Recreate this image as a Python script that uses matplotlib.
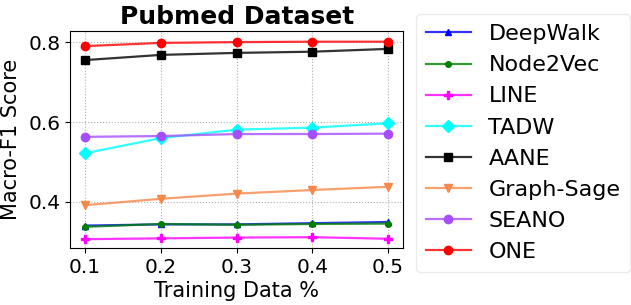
import matplotlib
matplotlib.use("Agg")
import matplotlib.pyplot as plt
from matplotlib.colors import to_rgba

train_pct = [0.1, 0.2, 0.3, 0.4, 0.5]

deepwalk = [0.341, 0.344, 0.344, 0.347, 0.350]
node2vec = [0.338, 0.345, 0.343, 0.345, 0.346]
line = [0.307, 0.309, 0.311, 0.312, 0.308]
tadw = [0.522, 0.560, 0.581, 0.586, 0.597]
aane = [0.755, 0.768, 0.773, 0.776, 0.783]
graphsage = [0.392, 0.408, 0.421, 0.430, 0.438]
seano = [0.563, 0.565, 0.570, 0.570, 0.571]
one = [0.790, 0.798, 0.800, 0.801, 0.801]

series = [
    ("DeepWalk", deepwalk, "blue", "^", 5),
    ("Node2Vec", node2vec, "green", "o", 4),
    ("LINE", line, "magenta", "P", 6),
    ("TADW", tadw, "cyan", "D", 6),
    ("AANE", aane, "black", "s", 6),
    ("Graph-Sage", graphsage, "#f5884a", "v", 6),
    ("SEANO", seano, "#a64dff", "o", 6),
    ("ONE", one, "red", "o", 6),
]

fig = plt.figure(figsize=(6.31, 3.05), dpi=100)
ax = fig.add_axes([0.111, 0.187, 0.528, 0.711])

for name, vals, col, mk, ms in series:
    ax.plot(train_pct, vals, color=to_rgba(col, 0.8), marker=mk, markersize=ms,
            markerfacecolor=col, markeredgecolor=col,
            linewidth=1.6, label=name)

ax.set_xticks(train_pct)
ax.set_yticks([0.4, 0.6, 0.8])
ax.set_ylim(0.285, 0.8275)
ax.grid(True, linestyle=":", color="#b0b0b0")
ax.tick_params(labelsize=14.5)
ax.set_xlabel("Training Data %", fontsize=15, labelpad=3)
ax.set_ylabel("Macro-F1 Score", fontsize=15, labelpad=5)
ax.set_title("Pubmed Dataset", fontsize=18, fontweight="bold", pad=5)

ax.legend(loc="upper left", bbox_to_anchor=(1.039, 1.078), borderaxespad=0,
          fontsize=16, labelspacing=0.5, handlelength=2.0, handletextpad=0.8,
          borderpad=0.45, edgecolor="#e6e6e6")

fig.savefig("out.png", dpi=100)
